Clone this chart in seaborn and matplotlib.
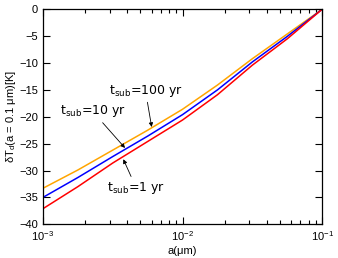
import numpy as np
import pandas as pd
import matplotlib
matplotlib.use("Agg")
import matplotlib.pyplot as plt
from matplotlib.ticker import LogLocator, NullFormatter
import seaborn as sns

# ---- datos ----
log_a = [-3.0, -2.75, -2.5, -2.25, -2.0, -1.75, -1.5, -1.25, -1.0]
dT_100yr = [-33.3, -29.9, -26.2, -22.5, -18.6, -14.1, -9.2, -4.6, 0.0]
dT_10yr = [-35.0, -31.3, -27.4, -23.6, -19.6, -15.0, -9.8, -5.05, 0.0]
dT_1yr = [-37.1, -33.0, -28.6, -24.6, -20.6, -15.9, -10.4, -5.5, 0.0]
series = ["100 yr", "10 yr", "1 yr"]
colores = ["#FFA500", "#0000FF", "#FF0000"]
y_ticks = [0, -5, -10, -15, -20, -25, -30, -35, -40]

a_vals = 10.0 ** np.array(log_a)
df = pd.concat([
    pd.DataFrame({"a": a_vals, "dT": vals, "t_sub": name})
    for name, vals in zip(series, [dT_100yr, dT_10yr, dT_1yr])
])

sns.set_style("ticks")
plt.rcParams["font.family"] = ["Liberation Sans", "DejaVu Sans"]
plt.rcParams["mathtext.default"] = "regular"
plt.rcParams["text.color"] = "black"
plt.rcParams["axes.labelcolor"] = "black"

fig = plt.figure(figsize=(3.38, 2.58), dpi=100)
ax = fig.add_axes([0.127, 0.1306, 0.826, 0.8334])

sns.lineplot(data=df, x="a", y="dT", hue="t_sub", palette=colores,
             hue_order=series, linewidth=1.1, legend=False, ax=ax)

ax.set_xscale("log")
ax.set_xlim(1e-3, 1e-1)
ax.set_ylim(-40, 0)
ax.set_yticks(y_ticks)
ax.xaxis.set_minor_locator(LogLocator(base=10, subs=np.arange(2, 10)))
ax.xaxis.set_minor_formatter(NullFormatter())
ax.tick_params(which="both", direction="in", top=True, right=True,
               labelsize=8, colors="black")
ax.tick_params(which="major", length=5, width=0.8)
ax.tick_params(axis="x", which="minor", length=3, width=0.8,
               bottom=True, top=True)
ax.tick_params(axis="y", which="minor", left=False, right=False)
for s in ax.spines.values():
    s.set_linewidth(0.9)
    s.set_color("black")

ax.set_xlabel("a(μm)", fontsize=8, labelpad=2)
ax.set_ylabel(r"δT$_d$(a = 0.1 μm)[K]", fontsize=8, labelpad=1)

# ---- anotaciones ----
fuente = dict(fontsize=9, family=["DejaVu Sans"], color="black")
flecha = dict(arrowstyle="-|>", color="black", lw=0.6, mutation_scale=6,
              shrinkA=0, shrinkB=0)
ax.annotate(r"t$_{sub}$=100 yr", xy=(10 ** -2.221, -21.9),
            xytext=(10 ** -2.53, -15.2), ha="left", va="center",
            arrowprops=flecha, **fuente)
ax.annotate(r"t$_{sub}$=10 yr", xy=(10 ** -2.412, -25.8),
            xytext=(10 ** -2.88, -19.0), ha="left", va="center",
            arrowprops=flecha, **fuente)
ax.annotate(r"t$_{sub}$=1 yr", xy=(10 ** -2.424, -27.9),
            xytext=(10 ** -2.54, -33.2), ha="left", va="center",
            arrowprops=flecha, **fuente)

fig.savefig("out.png", dpi=100)
